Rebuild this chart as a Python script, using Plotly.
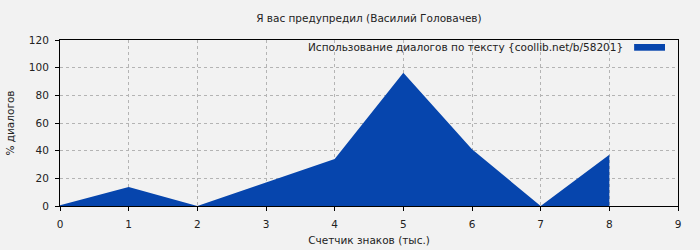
import plotly.graph_objects as go

x_vals = [0, 1, 2, 3, 4, 5, 6, 7, 8]
y_vals = [0.5, 13.7, 0, 17, 34, 96.3, 41, 0, 37]
x_ticks = [0, 1, 2, 3, 4, 5, 6, 7, 8, 9]
y_ticks = [0, 20, 40, 60, 80, 100, 120]
series_name = "Использование диалогов по тексту {coollib.net/b/58201}"
title_text = "Я вас предупредил (Василий Головачев)"
fill_color = "#0645AD"

fig = go.Figure()
fig.add_trace(go.Scatter(
    x=x_vals, y=y_vals, mode="lines", fill="tozeroy",
    fillcolor=fill_color, line=dict(width=0, color=fill_color),
    name=series_name, showlegend=False, hoverinfo="x+y",
))

font = dict(family="DejaVu Sans", size=10.5, color="#222")
axis_common = dict(
    showline=True, linecolor="black", linewidth=1, mirror=True,
    ticks="outside", ticklen=4, tickcolor="black",
    showgrid=True, gridcolor="#b4b4b4", griddash="dot", gridwidth=1,
    zeroline=False, tickfont=font, automargin=False, ticklabelstandoff=4,
)
fig.update_layout(
    width=700, height=250,
    margin=dict(l=60, r=22, t=40, b=44),
    paper_bgcolor="#f2f2f2", plot_bgcolor="#f2f2f2",
    font=font,
    title=dict(text=title_text, x=0.527, xanchor="center", y=0.928, yanchor="middle",
               font=font),
    xaxis=dict(axis_common, range=[0, 9], tickvals=x_ticks,
               title=dict(text="Счетчик знаков (тыс.)", font=font, standoff=8)),
    yaxis=dict(axis_common, range=[0, 120], tickvals=y_ticks,
               title=dict(text="% диалогов", font=font, standoff=12)),
    showlegend=False,
)
fig.add_annotation(
    text=series_name, xref="paper", yref="paper", x=0.914, y=0.958,
    xanchor="right", yanchor="middle", showarrow=False, font=font,
)
fig.add_shape(type="rect", xref="paper", yref="paper",
              x0=0.929, x1=0.979, y0=0.9355, y1=0.976,
              fillcolor=fill_color, line=dict(width=0))
fig.write_html("out.html")
